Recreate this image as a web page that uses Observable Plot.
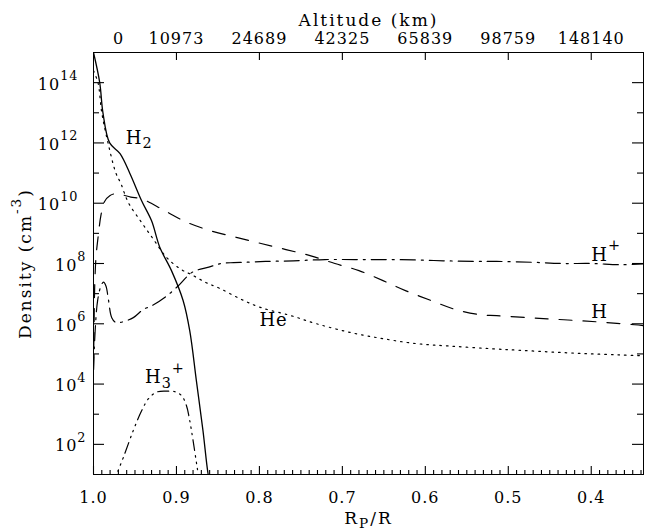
<!DOCTYPE html>
<html><head><meta charset="utf-8">
<script src="https://cdn.jsdelivr.net/npm/d3@7"></script>
<script src="https://cdn.jsdelivr.net/npm/@observablehq/plot@0.6"></script>
<style>
body{margin:0;background:#fff;}
#chart svg{display:block;}
</style>
</head><body><div id="chart"></div>
<script>
// ---- data ----
const rpH2 = [1.0, 0.9925, 0.9886, 0.9805, 0.968, 0.956, 0.942, 0.930, 0.920, 0.906, 0.892, 0.884, 0.876, 0.868, 0.862, 0.858];
const nH2  = [1e15, 1e14, 1e13, 1e12, 4.4e11, 9.5e10, 1.2e10, 2.6e9, 3.4e8, 5.8e7, 5.9e6, 5.9e5, 1.3e4, 2.8e2, 1.1e1, 3];

const rpHe = [1.0, 0.9946, 0.99, 0.9825, 0.973, 0.967, 0.958, 0.942, 0.928, 0.912, 0.896, 0.880, 0.864, 0.848, 0.8235, 0.799, 0.763, 0.731, 0.691, 0.651, 0.611, 0.570, 0.519, 0.486, 0.446, 0.406, 0.366, 0.337];
const nHe  = [2.5e14, 1e14, 1e13, 1e12, 1e11, 4.5e10, 1.05e10, 2.3e9, 6.5e8, 1.6e8, 6.8e7, 4.0e7, 2.3e7, 1.5e7, 6.8e6, 3.5e6, 1.9e6, 1.0e6, 5.2e5, 3.2e5, 2.2e5, 1.82e5, 1.48e5, 1.32e5, 1.15e5, 1.02e5, 9.3e4, 8.7e4];

const rpH = [1.0, 0.9993, 0.9986, 0.997, 0.9946, 0.991, 0.987, 0.98, 0.972, 0.965, 0.955, 0.942, 0.914, 0.887, 0.858, 0.828, 0.798, 0.768, 0.738, 0.709, 0.680, 0.651, 0.624, 0.593, 0.564, 0.534, 0.514, 0.473, 0.443, 0.413, 0.381, 0.348, 0.337];
const nH  = [3e4, 1e6, 1.6e7, 1.6e8, 7e8, 4e9, 1.1e10, 1.8e10, 2.1e10, 1.9e10, 1.6e10, 1.4e10, 5.6e9, 2.3e9, 1.2e9, 7.4e8, 4.6e8, 2.9e8, 1.8e8, 1.0e8, 5.8e7, 2.7e7, 1.26e7, 5.9e6, 3.0e6, 2.0e6, 1.86e6, 1.58e6, 1.41e6, 1.26e6, 1.1e6, 9.3e5, 8.7e5];

const rpHp = [1.0, 0.998, 0.995, 0.991, 0.988, 0.985, 0.982, 0.978, 0.973, 0.968, 0.952, 0.940, 0.9295, 0.912, 0.898, 0.881, 0.861, 0.846, 0.831, 0.817, 0.792, 0.759, 0.721, 0.685, 0.651, 0.614, 0.578, 0.542, 0.514, 0.472, 0.435, 0.400, 0.364, 0.337];
const nHp  = [3e4, 6e5, 6e6, 1.8e7, 2.4e7, 1.8e7, 6.3e6, 1.6e6, 1.1e6, 1.1e6, 1.6e6, 3.0e6, 4.0e6, 8.3e6, 1.8e7, 5.1e7, 7.6e7, 1.0e8, 1.07e8, 1.1e8, 1.17e8, 1.23e8, 1.35e8, 1.35e8, 1.35e8, 1.32e8, 1.23e8, 1.17e8, 1.17e8, 1.1e8, 1.0e8, 1.0e8, 9.1e7, 9.8e7];

const rpH3p = [0.976, 0.972, 0.964, 0.952, 0.942, 0.934, 0.924, 0.912, 0.902, 0.894, 0.888, 0.884, 0.880, 0.875, 0.872];
const nH3p  = [4, 10, 37, 290, 1.3e3, 3.2e3, 5.4e3, 5.8e3, 5.6e3, 4.2e3, 1.95e3, 6.2e2, 1.35e2, 17, 5];

// curve labels (text, Rp/R, density at label baseline)
const labelText = ["H_{2}", "He", "H", "H^{+}", "H_{3}^{+}"];
const labelRp   = [0.961, 0.80, 0.40, 0.40, 0.938];
const labelN    = [9.5e11, 8.7e5, 1.5e6, 1.2e8, 1.05e4];

// axes
const xMajor = [1.0, 0.9, 0.8, 0.7, 0.6, 0.5, 0.4];
const xMinor = d3.range(34, 100).filter(k => k % 10 !== 0).map(k => k / 100);
const altRp = [1.0, 0.9, 0.8, 0.7, 0.6, 0.5, 0.4];
const altLabels = ["0", "10973", "24689", "42325", "65839", "98759", "148140"];
const yMajorSingle = [1e2, 1e4, 1e6, 1e8];
const yMajorDouble = [1e10, 1e12, 1e14];
const yMajor = [1e2, 1e4, 1e6, 1e8, 1e10, 1e12, 1e14];
const yMinor = [1e3, 1e5, 1e7, 1e9, 1e11, 1e13];
const xTitle = "R_{P}/R";
const topTitle = "Altitude (km)";
const yTitle = "Density (cm^{-3})";

// ---- layout ----
const W = 645, H = 530, mL = 93, mR = 2, mT = 52, mB = 56;
const plotW = W - mL - mR, plotH = H - mT - mB;
const font = "'DejaVu Serif', serif";

const series = (rp, n) => rp.map((r, i) => ({rp: r, n: n[i]}));
const labels = labelText.map((t, i) => ({t, rp: labelRp[i], n: labelN[i]}));
const lineOpts = {x: "rp", y: "n", curve: "catmull-rom", stroke: "black", strokeWidth: 1.2, clip: true};

const noText = () => "";
const tk = {stroke: "black", strokeWidth: 1.1};

const chart = Plot.plot({
  width: W, height: H,
  marginLeft: mL, marginRight: mR, marginTop: mT, marginBottom: mB,
  style: {fontFamily: font, fontSize: "16px", background: "white", color: "black", letterSpacing: "1px"},
  x: {domain: [1.0, 0.337], axis: null},
  y: {type: "log", domain: [10, 1e15], axis: null},
  marks: [
    Plot.line(series(rpH2, nH2), {...lineOpts, strokeWidth: 1.3}),
    Plot.line(series(rpHe, nHe), {...lineOpts, strokeDasharray: "1.6,5"}),
    Plot.line(series(rpH, nH), {...lineOpts, strokeDasharray: "13,11"}),
    Plot.line(series(rpHp, nHp), {...lineOpts, strokeDasharray: "15,6,2,6"}),
    Plot.line(series(rpH3p, nH3p), {...lineOpts, strokeDasharray: "11,5,1.5,5,1.5,5,1.5,5"}),
    Plot.frame({stroke: "black", strokeWidth: 1}),
    // inward ticks
    Plot.axisX({anchor: "bottom", ticks: xMajor, tickSize: 8, dy: -8, tickFormat: noText, label: null, ...tk}),
    Plot.axisX({anchor: "bottom", ticks: xMinor, tickSize: 4, dy: -4, tickFormat: noText, label: null, ...tk}),
    Plot.axisX({anchor: "bottom", ticks: altRp.slice(1), tickSize: 8, dy: -plotH, tickFormat: noText, label: null, ...tk}),
    Plot.ruleY(yMajor, {y: d => d, insetRight: plotW - 11, ...tk}),
    Plot.ruleY(yMinor, {y: d => d, insetRight: plotW - 6, ...tk}),
    Plot.ruleY(yMajor, {y: d => d, insetLeft: plotW - 11, ...tk}),
    Plot.ruleY(yMinor, {y: d => d, insetLeft: plotW - 6, ...tk}),
    // tick labels
    Plot.axisX({anchor: "bottom", label: null, ticks: xMajor, tickSize: 0, tickPadding: 17, tickFormat: d3.format(".1f"), fontSize: 16}),
    Plot.axisX({anchor: "top", label: null, ticks: altRp.slice(1), tickSize: 0, tickPadding: 9, tickFormat: d => altLabels[altRp.indexOf(d)], fontSize: 16}),
    Plot.axisX({anchor: "top", label: null, ticks: altRp.slice(0, 1), tickSize: 0, tickPadding: 9, tickFormat: d => altLabels[altRp.indexOf(d)], fontSize: 16, dx: 25}),
    Plot.axisY({anchor: "left", label: null, ticks: yMajorSingle, tickSize: 0, tickPadding: 7, dy: 2, tickFormat: d => `10^{${Math.round(Math.log10(d))}}`, fontSize: 16}),
    Plot.axisY({anchor: "left", label: null, ticks: yMajorDouble, tickSize: 0, tickPadding: 15, dy: 2, tickFormat: d => `10^{${Math.round(Math.log10(d))}}`, fontSize: 16}),
    // titles
    Plot.text([topTitle], {frameAnchor: "top", lineAnchor: "bottom", dy: -27, fontSize: 17}),
    Plot.text([xTitle], {frameAnchor: "bottom", lineAnchor: "bottom", dy: 49, fontSize: 17}),
    Plot.text([yTitle], {frameAnchor: "left", textAnchor: "middle", rotate: -90, dx: -68, fontSize: 17}),
    // curve labels
    Plot.text(labels, {x: "rp", y: "n", text: "t", textAnchor: "start", lineAnchor: "bottom", fontSize: 18})
  ]
});

document.getElementById("chart").appendChild(chart);

// turn ^{..} / _{..} markup into real superscript/subscript tspans
const titles = new Set([topTitle, xTitle, yTitle]);
chart.querySelectorAll("text").forEach(t => {
  const s = t.textContent;
  if (titles.has(s)) t.setAttribute("letter-spacing", "2px");
  if (!/[_^]\{/.test(s)) return;
  const parts = [];
  const re = /([_^])\{([^}]*)\}/g;
  let last = 0, m;
  while ((m = re.exec(s))) {
    if (m.index > last) parts.push({k: "", s: s.slice(last, m.index)});
    parts.push({k: m[1], s: m[2]});
    last = re.lastIndex;
  }
  if (last < s.length) parts.push({k: "", s: s.slice(last)});
  const fs = parseFloat(getComputedStyle(t).fontSize) || 16;
  while (t.firstChild) t.removeChild(t.firstChild);
  let cur = 0;
  parts.forEach(p => {
    const ts = document.createElementNS("http://www.w3.org/2000/svg", "tspan");
    const target = p.k === "^" ? -0.6 * fs : p.k === "_" ? 0.25 * fs : 0;
    if (target !== cur) ts.setAttribute("dy", (target - cur) + "px");
    cur = target;
    if (p.k) ts.setAttribute("font-size", (0.8 * fs) + "px");
    ts.textContent = p.s;
    t.appendChild(ts);
  });
});
</script>
</body></html>
